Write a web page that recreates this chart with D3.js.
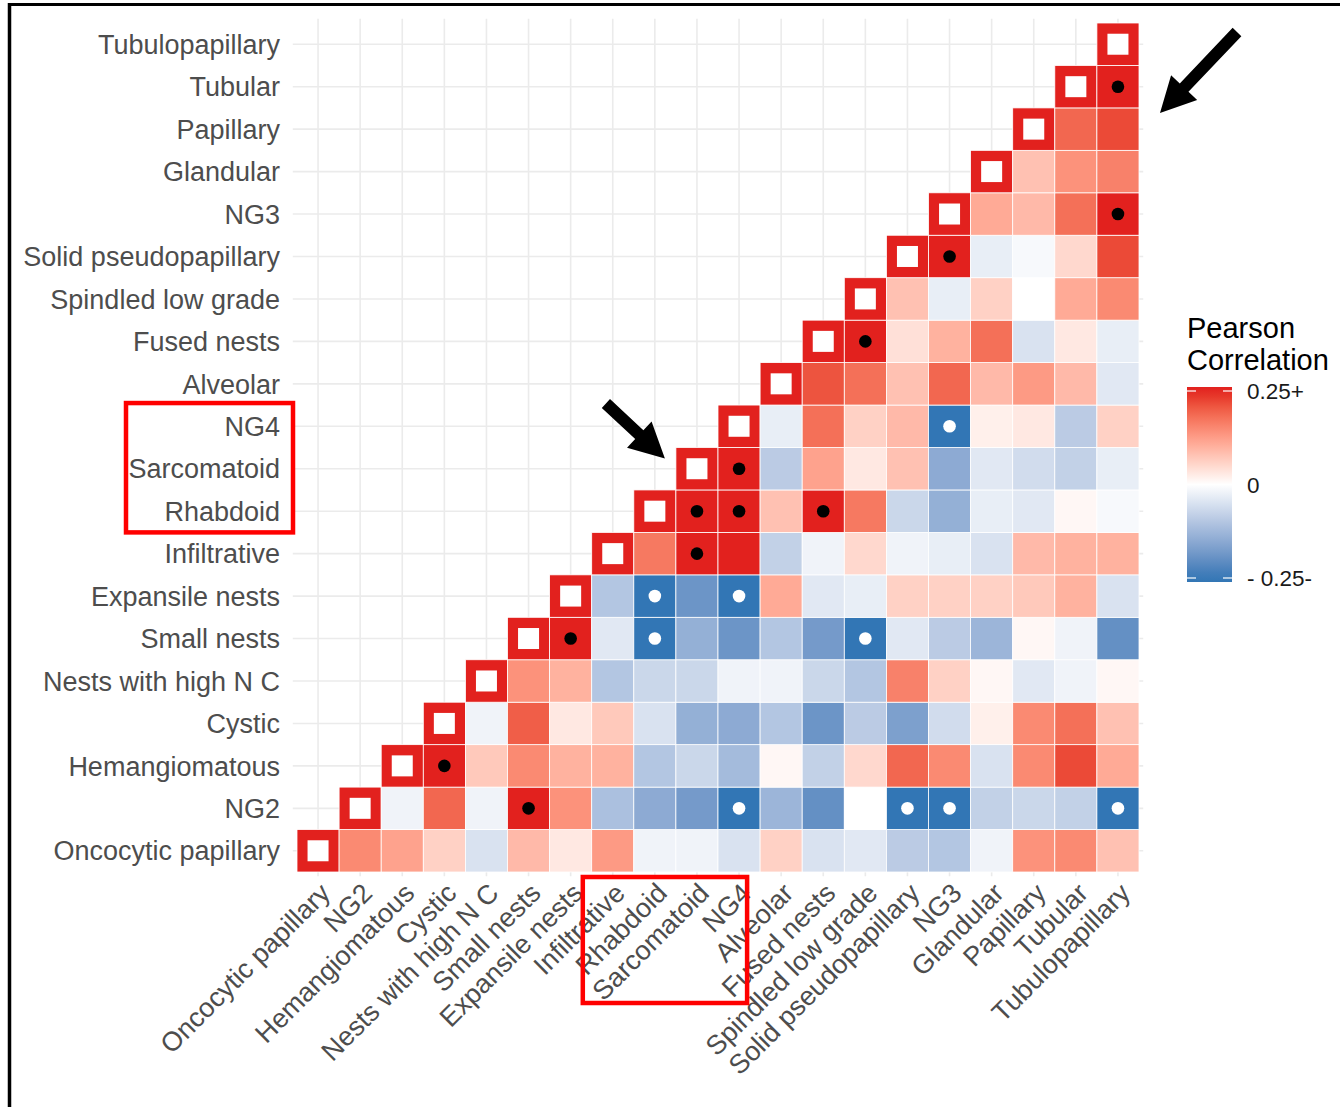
<!DOCTYPE html>
<html><head><meta charset="utf-8">
<script src="https://cdn.jsdelivr.net/npm/d3@7"></script>
<style>
body{margin:0;background:#fff;}
svg{display:block;font-family:"Liberation Sans",Arial,Helvetica,sans-serif;}
</style>
</head><body>
<svg id="chart" width="1340" height="1107"></svg>
<script>
// ---------------- DATA ----------------
const categories = ["Oncocytic papillary","NG2","Hemangiomatous","Cystic","Nests with high N C","Small nests","Expansile nests","Infiltrative","Rhabdoid","Sarcomatoid","NG4","Alveolar","Fused nests","Spindled low grade","Solid pseudopapillary","NG3","Glandular","Papillary","Tubular","Tubulopapillary"];

// corrRows[i]: Pearson correlation of categories[i] with categories[i+1], categories[i+2], ... (upper triangle)
const corrRows = [
  [0.15,0.12,0.06,-0.05,0.09,0.03,0.13,-0.02,-0.02,-0.05,0.06,-0.05,-0.04,-0.09,-0.10,-0.02,0.14,0.15,0.08],
  [-0.02,0.19,-0.02,0.30,0.14,-0.11,-0.15,-0.18,-0.27,-0.13,-0.20,0.00,-0.27,-0.27,-0.08,-0.07,-0.08,-0.27],
  [0.30,0.07,0.15,0.10,0.10,-0.10,-0.07,-0.12,0.01,-0.08,0.05,0.19,0.15,-0.05,0.15,0.22,0.11],
  [-0.02,0.20,0.03,0.07,-0.05,-0.14,-0.15,-0.10,-0.19,-0.09,-0.17,-0.06,0.02,0.15,0.18,0.08],
  [0.14,0.10,-0.10,-0.07,-0.07,-0.02,-0.02,-0.07,-0.10,0.16,0.06,0.01,-0.04,-0.02,0.01],
  [0.30,-0.04,-0.27,-0.14,-0.19,-0.10,-0.18,-0.27,-0.04,-0.09,-0.13,0.01,-0.02,-0.20],
  [-0.10,-0.27,-0.19,-0.27,0.11,-0.04,-0.03,0.06,0.06,0.06,0.07,0.10,-0.05],
  [0.17,0.30,0.25,-0.08,-0.02,0.05,-0.02,-0.03,-0.05,0.09,0.10,0.10],
  [0.30,0.30,0.08,0.30,0.17,-0.07,-0.14,-0.03,-0.04,0.01,-0.01],
  [0.30,-0.09,0.12,0.03,0.08,-0.15,-0.04,-0.06,-0.08,-0.03],
  [-0.03,0.18,0.06,0.09,-0.27,0.02,0.03,-0.09,0.06],
  [0.21,0.18,0.08,0.19,0.09,0.13,0.09,-0.04],
  [0.30,0.04,0.10,0.18,-0.05,0.03,-0.03],
  [0.08,-0.03,0.06,0.00,0.11,0.15],
  [0.30,-0.03,-0.01,0.05,0.22],
  [0.11,0.09,0.18,0.30],
  [0.08,0.14,0.16],
  [0.19,0.22],
  [0.30],
  []
];

// significant pairs [row category, column category]
const sigPositive = [
  ["NG2","Small nests"],["Hemangiomatous","Cystic"],["Small nests","Expansile nests"],
  ["Infiltrative","Sarcomatoid"],["Rhabdoid","Sarcomatoid"],["Rhabdoid","NG4"],["Rhabdoid","Fused nests"],
  ["Sarcomatoid","NG4"],["Fused nests","Spindled low grade"],["Solid pseudopapillary","NG3"],
  ["NG3","Tubulopapillary"],["Tubular","Tubulopapillary"]
];
const sigNegative = [
  ["NG2","NG4"],["NG2","Solid pseudopapillary"],["NG2","NG3"],["NG2","Tubulopapillary"],
  ["Small nests","Rhabdoid"],["Small nests","Spindled low grade"],
  ["Expansile nests","Rhabdoid"],["Expansile nests","NG4"],["NG4","NG3"]
];

const legendTitle = ["Pearson","Correlation"];
const legendTicks = [0.25, 0, -0.25];
const legendLabels = ["0.25+", "0", "- 0.25-"];
const yBoxCats = ["NG4","Rhabdoid"];
const xBoxCats = ["Rhabdoid","NG4"];

// ---------------- BUILD ----------------
const cells = [];
corrRows.forEach((vals, i) => {
  cells.push({row: categories[i], col: categories[i], value: 1, diag: true});
  vals.forEach((v, k) => cells.push({row: categories[i], col: categories[i + 1 + k], value: v, diag: false}));
});

const svg = d3.select("#chart");
const W = 1340, H = 1107;

const x = d3.scaleBand().domain(categories).range([297, 1139]).padding(0);
const y = d3.scaleBand().domain(categories).range([872, 23]).padding(0);
const bw = x.bandwidth(), bh = y.bandwidth();
const cx = c => x(c) + bw / 2, cy = c => y(c) + bh / 2;

const HIGH = "#E2211E", LOW = "#3276B5";
const color = d3.scaleLinear().domain([-0.25, 0, 0.25]).range([LOW, "#ffffff", HIGH])
  .interpolate(d3.interpolateLab).clamp(true);

// panel grid
const px0 = 297 - 0.1 * bw, px1 = 1139 + 0.1 * bw, py0 = 23 - 0.1 * bh, py1 = 872 + 0.1 * bh;
const grid = svg.append("g").attr("stroke", "#EBEBEB").attr("stroke-width", 1.6);
grid.selectAll("line.v").data(categories).join("line")
  .attr("x1", d => cx(d)).attr("x2", d => cx(d)).attr("y1", py0).attr("y2", py1);
grid.selectAll("line.h").data(categories).join("line")
  .attr("y1", d => cy(d)).attr("y2", d => cy(d)).attr("x1", px0).attr("x2", px1);

// tiles
svg.append("g").selectAll("rect").data(cells).join("rect")
  .attr("x", d => x(d.col)).attr("y", d => y(d.row))
  .attr("width", bw).attr("height", bh)
  .attr("fill", d => color(d.value))
  .attr("stroke", "#ffffff").attr("stroke-width", 0.8);

// diagonal inner white squares
const inner = 21;
svg.append("g").selectAll("rect").data(cells.filter(d => d.diag)).join("rect")
  .attr("x", d => cx(d.col) - inner / 2).attr("y", d => cy(d.row) - inner / 2)
  .attr("width", inner).attr("height", inner).attr("fill", "#ffffff");

// significance dots
svg.append("g").selectAll("circle").data(sigPositive).join("circle")
  .attr("cx", d => cx(d[1])).attr("cy", d => cy(d[0])).attr("r", 6.3).attr("fill", "#000");
svg.append("g").selectAll("circle").data(sigNegative).join("circle")
  .attr("cx", d => cx(d[1])).attr("cy", d => cy(d[0])).attr("r", 6.3).attr("fill", "#fff");

// y axis labels
svg.append("g").selectAll("text").data(categories).join("text")
  .attr("x", 280).attr("y", d => cy(d)).attr("dy", "0.36em")
  .attr("text-anchor", "end").attr("font-size", 27).attr("fill", "#4D4D4D")
  .text(d => d);

// x axis labels
svg.append("g").selectAll("text").data(categories).join("text")
  .attr("transform", d => `translate(${cx(d)},${881}) rotate(-45)`)
  .attr("dy", "0.72em")
  .attr("text-anchor", "end").attr("font-size", 27).attr("fill", "#4D4D4D")
  .text(d => d);

// legend
const lg = svg.append("g");
lg.selectAll("text.t").data(legendTitle).join("text")
  .attr("x", 1187).attr("y", (d, i) => 338 + i * 32)
  .attr("font-size", 29).attr("fill", "#000").text(d => d);
const defs = svg.append("defs");
const grad = defs.append("linearGradient").attr("id", "lgGrad").attr("x1", 0).attr("x2", 0).attr("y1", 0).attr("y2", 1);
const ly = d3.scaleLinear().domain([0.25, -0.25]).range([391, 578]);
const barTop = 387, barBot = 582;
d3.range(0, 21).forEach(k => {
  const t = k / 20;
  const v = ly.invert(barTop + t * (barBot - barTop));
  grad.append("stop").attr("offset", t).attr("stop-color", color(v));
});
lg.append("rect").attr("x", 1187).attr("y", barTop).attr("width", 45).attr("height", barBot - barTop)
  .attr("fill", "url(#lgGrad)");
legendTicks.forEach(v => {
  if (v === 0) return;
  lg.append("line").attr("x1", 1187).attr("x2", 1196).attr("y1", ly(v)).attr("y2", ly(v))
    .attr("stroke", "#fff").attr("stroke-width", 1.2);
  lg.append("line").attr("x1", 1223).attr("x2", 1232).attr("y1", ly(v)).attr("y2", ly(v))
    .attr("stroke", "#fff").attr("stroke-width", 1.2);
});
lg.selectAll("text.l").data(legendTicks).join("text")
  .attr("x", 1247).attr("y", d => ly(d)).attr("dy", "0.36em")
  .attr("font-size", 22.5).attr("fill", "#1a1a1a").text((d, i) => legendLabels[i]);

// ---------------- ANNOTATIONS ----------------
// frame
svg.append("line").attr("x1", 9).attr("x2", W).attr("y1", 4.5).attr("y2", 4.5).attr("stroke", "#000").attr("stroke-width", 3);
svg.append("line").attr("x1", 9.5).attr("x2", 9.5).attr("y1", 3).attr("y2", H).attr("stroke", "#000").attr("stroke-width", 3.5);

// red boxes
svg.append("rect")
  .attr("x", 126).attr("y", y(yBoxCats[0]) - 2)
  .attr("width", 293 - 126).attr("height", (y(yBoxCats[1]) + bh) - (y(yBoxCats[0]) - 2))
  .attr("fill", "none").attr("stroke", "#FF0000").attr("stroke-width", 4.5);
svg.append("rect")
  .attr("x", x(xBoxCats[0]) - 51).attr("y", 877)
  .attr("width", (x(xBoxCats[1]) + bw - 13) - (x(xBoxCats[0]) - 51)).attr("height", 1003 - 877)
  .attr("fill", "none").attr("stroke", "#FF0000").attr("stroke-width", 4.5);

// arrows
function arrow(tail, tip, shaftW, headL, headW) {
  const dx = tip[0] - tail[0], dy = tip[1] - tail[1];
  const L = Math.hypot(dx, dy), ux = dx / L, uy = dy / L, nx = -uy, ny = ux;
  const bx = tip[0] - ux * headL, by = tip[1] - uy * headL;
  const pts = [
    [tail[0] + nx * shaftW / 2, tail[1] + ny * shaftW / 2],
    [bx + nx * shaftW / 2, by + ny * shaftW / 2],
    [bx + nx * headW / 2, by + ny * headW / 2],
    tip,
    [bx - nx * headW / 2, by - ny * headW / 2],
    [bx - nx * shaftW / 2, by - ny * shaftW / 2],
    [tail[0] - nx * shaftW / 2, tail[1] - ny * shaftW / 2]
  ];
  svg.append("polygon").attr("points", pts.map(p => p.join(",")).join(" ")).attr("fill", "#000");
}
// arrow toward Sarcomatoid diagonal cell
arrow([x("Sarcomatoid") - 70, y("Sarcomatoid") - 44], [x("Sarcomatoid") - 11, y("Sarcomatoid") + 11], 12, 35, 36);
// arrow toward Tubulopapillary column
arrow([1139 + 98, y("Tubulopapillary") + 9], [1139 + 21, y("Papillary") + 5], 12, 35, 36);
</script>
</body></html>
